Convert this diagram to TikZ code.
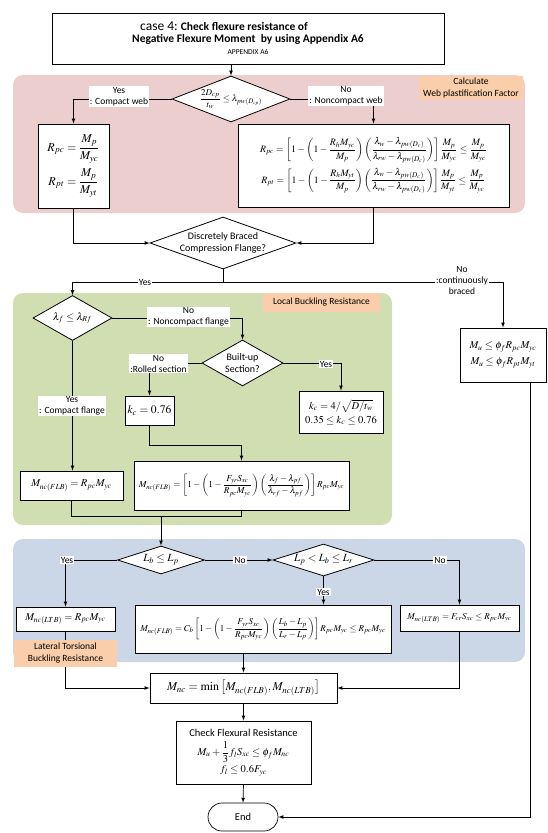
\documentclass[tikz,border=0pt]{standalone}
\usepackage{amsmath}
\usepackage{mathptmx}
\usepackage{fontspec}
\setmainfont{Carlito}
\usetikzlibrary{shapes.geometric,calc}
\definecolor{webpink}{RGB}{236,206,206}
\definecolor{flggreen}{RGB}{209,222,178}
\definecolor{ltbblue}{RGB}{203,214,230}
\definecolor{tagorange}{RGB}{250,206,170}
\tikzset{>=latex,
  box/.style={draw, line width=0.9pt, fill=white, align=center, inner sep=2pt},
  decision/.style={diamond, draw, line width=0.8pt, fill=white, inner sep=0pt},
  tag/.style={fill=white, align=center, inner sep=1pt, font=\fontsize{9.5}{11}\selectfont},
  note/.style={fill=tagorange, align=center, inner sep=0pt, font=\fontsize{9.5}{12}\selectfont},
  flow/.style={->, line width=0.7pt},
  line/.style={line width=0.7pt}}

\begin{document}
\begin{tikzpicture}[x=1pt,y=-1pt]
    \useasboundingbox (0,0) rectangle (548,833);
    % shaded groups
    \fill[webpink,rounded corners=10pt] (13,75) rectangle (525,213);
    \fill[flggreen,rounded corners=10pt] (13,293) rectangle (392,525);
    \fill[ltbblue,rounded corners=10pt] (13,539) rectangle (525,662);

    % title and web plastification
    \node[box, minimum width=392pt, minimum height=51pt] (title) at (248,38.5)
        {{\fontsize{13.5}{14}\selectfont case 4:} {\fontsize{11.5}{14}\selectfont\bfseries Check flexure resistance of}\hspace*{48pt}\\
         {\fontsize{11.5}{14}\selectfont\bfseries Negative Flexure Moment~~by using Appendix A6}\\
         {\fontsize{7.5}{10}\selectfont APPENDIX A6}};
    \node[decision, minimum width=118pt, minimum height=46pt,
        label={[font=\fontsize{9}{11}\selectfont]center:$\dfrac{2D_{cp}}{t_w}\le\lambda_{pw(D_{cp})}$}] (web) at (231,99) {};
    \node[box, minimum width=71pt, minimum height=84pt, font=\fontsize{12}{14}\selectfont] (rpcL) at (73.5,166)
        {$R_{pc}=\dfrac{M_p}{M_{yc}}$\\[5pt] $R_{pt}=\dfrac{M_p}{M_{yt}}$};
    \node[box, minimum width=271pt, minimum height=83pt, font=\fontsize{9.8}{11}\selectfont] (rpcR) at (373.5,165.5)
        {$R_{pc}=\left[1-\left(1-\dfrac{R_hM_{yc}}{M_p}\right)\left(\dfrac{\lambda_w-\lambda_{pw(D_c)}}{\lambda_{rw}-\lambda_{pw(D_c)}}\right)\right]\dfrac{M_p}{M_{yc}}\le\dfrac{M_p}{M_{yc}}$\\[4pt]
         $R_{pt}=\left[1-\left(1-\dfrac{R_hM_{yt}}{M_p}\right)\left(\dfrac{\lambda_w-\lambda_{pw(D_c)}}{\lambda_{rw}-\lambda_{pw(D_c)}}\right)\right]\dfrac{M_p}{M_{yt}}\le\dfrac{M_p}{M_{yc}}$};
    \node[decision, minimum width=146pt, minimum height=52pt,
        label={[font=\fontsize{10}{12}\selectfont, align=center]center:Discretely Braced\\Compression Flange?}] (braced) at (223,243) {};
    \node[box, minimum width=86pt, minimum height=54pt, font=\fontsize{10.5}{12}\selectfont] (mubox) at (503,355)
        {$M_u\le\phi_fR_{pc}M_{yc}$\\[4pt] $M_u\le\phi_fR_{pt}M_{yt}$};

    % local buckling
    \node[decision, minimum width=79pt, minimum height=45pt,
        label={[font=\fontsize{10.5}{12}\selectfont]center:$\lambda_f\le\lambda_{Rf}$}] (lamf) at (72.5,318) {};
    \node[decision, minimum width=81pt, minimum height=46pt,
        label={[font=\fontsize{10}{12}\selectfont, align=center]center:Built-up\\Section?}] (builtup) at (242.5,363) {};
    \node[box, minimum width=49pt, minimum height=29pt, font=\fontsize{11.5}{13}\selectfont] (kcrolled) at (149.5,410.5) {$k_c=0.76$};
    \node[box, minimum width=84pt, minimum height=42pt, font=\fontsize{10.5}{12}\selectfont] (kcbuilt) at (341,412)
        {$k_c=4/\sqrt{D/t_w}$\\[2pt] $0.35\le k_c\le0.76$};
    \node[box, minimum width=103pt, minimum height=29pt, font=\fontsize{10.5}{12}\selectfont] (flbc) at (71.5,485.5) {$M_{nc(FLB)}=R_{pc}M_{yc}$};
    \node[box, minimum width=215pt, minimum height=49pt, font=\fontsize{9.2}{11}\selectfont] (flbn) at (241.5,485.5)
        {$M_{nc(FLB)}=\left[1-\left(1-\dfrac{F_{yr}S_{xc}}{R_{pc}M_{yc}}\right)\left(\dfrac{\lambda_f-\lambda_{pf}}{\lambda_{rf}-\lambda_{pf}}\right)\right]R_{pc}M_{yc}$};

    % lateral torsional buckling
    \node[decision, minimum width=87pt, minimum height=28pt,
        label={[font=\fontsize{11}{13}\selectfont]center:$L_b\le L_p$}] (lbp) at (161,560) {};
    \node[decision, minimum width=101pt, minimum height=32pt,
        label={[font=\fontsize{11}{13}\selectfont]center:$L_p<L_b\le L_r$}] (lbr) at (323.5,560) {};
    \node[box, minimum width=99pt, minimum height=24pt, font=\fontsize{10.5}{12}\selectfont] (ltbc) at (65.5,619) {$M_{nc(LTB)}=R_{pc}M_{yc}$};
    \node[box, minimum width=256pt, minimum height=48pt, font=\fontsize{9}{11}\selectfont] (flbi) at (263,629)
        {$M_{nc(FLB)}=C_b\left[1-\left(1-\dfrac{F_{yr}S_{xc}}{R_{pc}M_{yc}}\right)\left(\dfrac{L_b-L_p}{L_r-L_p}\right)\right]R_{pc}M_{yc}\le R_{pc}M_{yc}$};
    \node[box, minimum width=119pt, minimum height=26pt, font=\fontsize{9}{11}\selectfont] (ltbe) at (459.5,618) {$M_{nc(LTB)}=F_{cr}S_{xc}\le R_{pc}M_{yc}$};

    % nominal resistance and check
    \node[box, minimum width=187pt, minimum height=30pt, font=\fontsize{12}{14}\selectfont] (mnc) at (243.5,688)
        {$M_{nc}=\min\left[M_{nc(FLB)},M_{nc(LTB)}\right]$};
    \node[box, minimum width=135pt, minimum height=63pt, font=\fontsize{10.5}{12}\selectfont] (check) at (243.5,752.5)
        {Check Flexural Resistance\\[4pt] $M_u+\dfrac{1}{3}f_lS_{xc}\le\phi_fM_{nc}$\\[2pt] $f_l\le0.6F_{yc}$};
    \node[box, line width=0.7pt, rounded corners=14pt, minimum width=70pt, minimum height=28pt, font=\fontsize{10.5}{12}\selectfont] (end) at (243,817) {End};

    % connectors
    \draw[flow] (title.south -| web.north) -- (web.north);
    \draw[flow] (web.west) -| (rpcL.north);
    \draw[flow] (web.east) -| (rpcR.north);
    \draw[flow] (rpcL.south) |- (braced.west);
    \draw[flow] (rpcR.south) |- (braced.east);
    \coordinate (split) at (223,282);
    \draw[line] (braced.south) -- (split);
    \draw[flow] (split) -| (lamf.north);
    \draw[flow] (split) -| (mubox.north);
    \draw[flow] (lamf.east) -| (builtup.north);
    \draw[flow] (builtup.west) -| (kcrolled.north);
    \draw[flow] (builtup.east) -| (kcbuilt.north);
    \draw[flow] (lamf.south) -- (lamf.south |- flbc.north);
    \draw[flow] (kcrolled.south) -- ++(0,20) -| (flbn.north);
    \draw[line] (flbc.south) -- ++(0,16) -| (flbn.south);
    \coordinate (merge) at (161,516);
    \draw[flow] (merge) -- (lbp.north);
    \draw[flow] (lbp.west) -| (ltbc.north);
    \draw[flow] (lbp.east) -- (lbr.west);
    \draw[flow] (lbr.south) -- (lbr.south |- flbi.north);
    \draw[flow] (lbr.east) -| (ltbe.north);
    \draw[flow] (ltbc.south) |- (mnc.west);
    \draw[flow] (ltbe.south) |- (mnc.east);
    \draw[flow] (mnc.north |- flbi.south) -- (mnc.north);
    \draw[flow] (mnc.south) -- (check.north);
    \draw[flow] (check.south) -- (end.north);
    \coordinate (muout) at ($(mubox.south)+(27,0)$);
    \draw[flow] (muout) |- (end.east);

    % connector labels
    \node[tag] at (119,96.5) {Yes\\: Compact web};
    \node[tag] at (346,96) {No\\: Noncompact web};
    \node[tag] at (145,282) {Yes};
    \node[tag] at (462,280) {No\\:continuously\\braced};
    \node[tag] at (188.5,317) {No\\: Noncompact flange};
    \node[tag] at (158.5,363.5) {No\\:Rolled section};
    \node[tag] at (326,364) {Yes};
    \node[tag] at (72,406) {Yes\\: Compact flange};
    \node[tag] at (67,560) {Yes};
    \node[tag] at (240,560) {No};
    \node[tag] at (323.5,592) {Yes};
    \node[tag] at (440,560) {No};

    % group notes
    \node[note, minimum width=104pt, minimum height=24pt] (webnote) at (471,88) {Calculate\\Web plastification Factor};
    \node[note, minimum width=117pt, minimum height=19pt] (flgnote) at (321.5,302.5) {Local Buckling Resistance};
    \node[note, minimum width=103pt, minimum height=27pt] (ltbnote) at (65.5,653.5) {Lateral Torsional\\Buckling Resistance};
\end{tikzpicture}
\end{document}
